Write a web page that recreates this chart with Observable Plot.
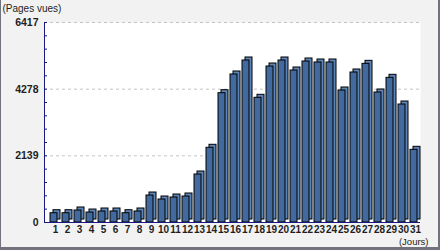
<!DOCTYPE html>
<html><head><meta charset="utf-8">
<script src="https://cdn.jsdelivr.net/npm/d3@7"></script>
<script src="https://cdn.jsdelivr.net/npm/@observablehq/plot@0.6"></script>
<style>
html,body{margin:0;padding:0;background:#f2f2f2;}
#wrap{position:relative;width:440px;height:250px;overflow:hidden;}
#wrap svg{display:block;}
#border{position:absolute;left:0;top:0;width:440px;height:250px;box-sizing:border-box;border-left:1px solid #72727e;border-right:2px solid #72727e;border-bottom:3px solid #72727e;pointer-events:none;}
</style></head><body><div id="wrap"><div id="border"></div></div>
<script>
const days = [1,2,3,4,5,6,7,8,9,10,11,12,13,14,15,16,17,18,19,20,21,22,23,24,25,26,27,28,29,30,31];
const views = [298,298,385,320,353,353,298,353,866,738,802,834,1540,2397,4149,4749,5198,4001,5005,5198,4877,5166,5134,5134,4235,4813,5091,4171,4642,3786,2332];
const yMajorTicks = [0,2139,4278,6417];
const yMinorTicks = [427.8,855.6,1283.4,1711.2,2139,2566.8,2994.6,3422.4,3850.2,4278,4705.8,5133.6,5561.4,5989.2,6417];
const yLabel = "(Pages vues)";
const xLabel = "(Jours)";

const data = days.map((d, i) => ({day: d, views: views[i]}));

const chart = Plot.plot({
  width: 440, height: 250,
  marginLeft: 44, marginRight: 20, marginTop: 22, marginBottom: 28,
  style: {background: "transparent", fontFamily: "'Liberation Sans', Arial, sans-serif", fontSize: "10.5px", color: "#1e1e1e", overflow: "visible"},
  x: {type: "band", domain: days, range: [47.5, 419.5], paddingInner: 5/12, paddingOuter: 5/24},
  y: {domain: [0, 6417]},
  marks: [
    Plot.frame({fill: "white", stroke: null}),
    Plot.ruleY(yMajorTicks.slice(1), {stroke: "#c4c4c4", strokeDasharray: "3,3"}),
    Plot.barY(data, {x: "day", y: "views", dx: 3, dy: -3, fill: "#5d84b6", stroke: "black", strokeWidth: 1}),
    Plot.barY(data, {x: "day", y: "views", fill: "#436a9e", stroke: "black", strokeWidth: 1}),
    Plot.ruleY(yMinorTicks, {insetRight: 373, stroke: "#1a1a80"}),
    Plot.frame({anchor: "left", stroke: "#1a1a80"}),
    Plot.ruleY([0], {stroke: "#1a1a80"}),
    Plot.axisY({ticks: yMajorTicks, tickSize: 0, tickPadding: 6, tickFormat: d => String(d), label: null, fontWeight: "bold", fontSize: 10.5}),
    Plot.axisX({tickSize: 0, tickPadding: 3, tickFormat: d => String(d), label: null, dx: 1.5, fontWeight: "bold", fontSize: 10}),
    Plot.text([yLabel], {frameAnchor: "top-left", dx: -42, dy: -11, textAnchor: "start", lineAnchor: "bottom", fontSize: 10}),
    Plot.text([xLabel], {frameAnchor: "bottom-right", dx: 8, dy: 22, textAnchor: "end", lineAnchor: "bottom", fontSize: 9.5})
  ]
});
document.getElementById("wrap").prepend(chart);
</script>
</body></html>
